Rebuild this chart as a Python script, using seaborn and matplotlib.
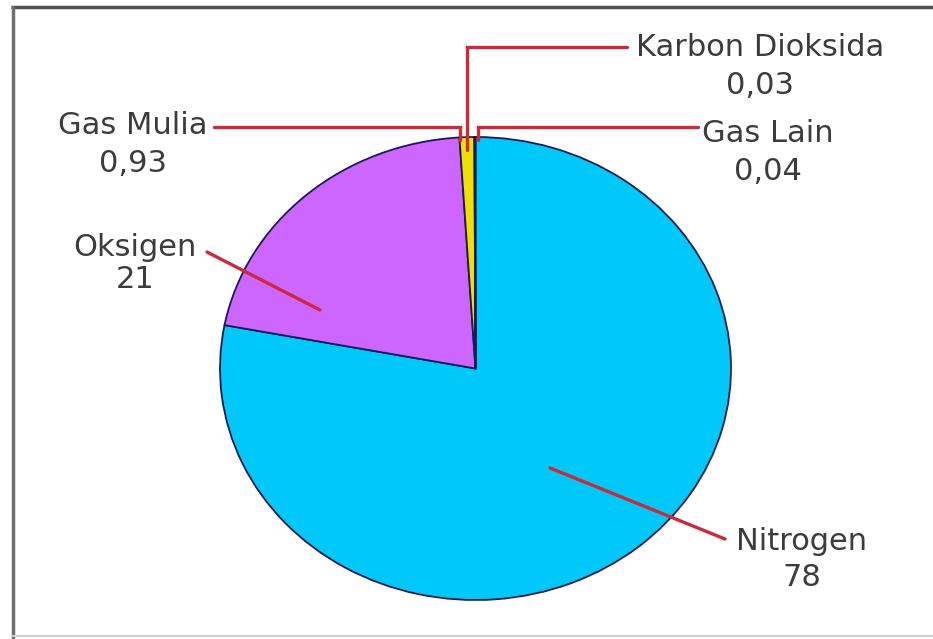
import matplotlib
matplotlib.use("Agg")
import matplotlib.pyplot as plt
import seaborn as sns

# ---- data ----
names = ["Nitrogen", "Oksigen", "Gas Mulia", "Karbon Dioksida", "Gas Lain"]
values = [78, 21, 0.93, 0.03, 0.04]
colors = ["#00C8F8", "#CC66FF", "#F0E000", "#30A030", "#207040"]

def fmt(v):
    return str(v).replace(".", ",")

sns.set_theme(style="white")
plt.rcParams["font.family"] = ["DejaVu Sans"]

W, H = 933, 639
fig = plt.figure(figsize=(W / 100, H / 100), dpi=100)
fig.patch.set_facecolor("white")

# pie axes (slightly elliptical, as in the reference)
pl, pt, pr, pb = 220, 137, 731, 600
ax = fig.add_axes([pl / W, 1 - pb / H, (pr - pl) / W, (pb - pt) / H])
ax.pie(values, colors=colors, startangle=90, counterclock=False, radius=1,
       wedgeprops=dict(edgecolor="#1a1a55", linewidth=1.3))
ax.set_aspect("auto")
ax.set_xlim(-1, 1)
ax.set_ylim(-1, 1)
ax.axis("off")

# overlay axes in pixel coordinates for labels, leader lines, frame
ov = fig.add_axes([0, 0, 1, 1], facecolor="none")
ov.set_xlim(0, W)
ov.set_ylim(H, 0)
ov.axis("off")

# frame
ov.plot([11, W], [7, 7], color="#505050", lw=2.5, solid_capstyle="butt")
ov.plot([13, 13], [6, H], color="#707070", lw=2.5, solid_capstyle="butt")
ov.plot([13, W], [636, 636], color="#d0d0d0", lw=1.5)

line_col = "#CC2a3a"
leaders = {
    "Nitrogen": ([550, 725], [468, 539]),
    "Oksigen": ([320, 207], [310, 252]),
    "Gas Mulia": ([460, 460, 214], [140, 127, 127]),
    "Karbon Dioksida": ([467, 467, 627], [150, 47, 47]),
    "Gas Lain": ([478, 478, 698], [140, 127, 127]),
}
label_pos = {
    "Nitrogen": (802, 542, 577),
    "Oksigen": (135, 247, 280),
    "Gas Mulia": (133, 125, 163),
    "Karbon Dioksida": (760, 48, 85),
    "Gas Lain": (768, 133, 172),
}

for n, v in zip(names, values):
    xs, ys = leaders[n]
    ov.plot(xs, ys, color=line_col, lw=2.4, solid_joinstyle="miter")
    x, y1, y2 = label_pos[n]
    ov.text(x, y1, n, ha="center", va="center", fontsize=22, color="#3c3c3c")
    ov.text(x, y2, fmt(v), ha="center", va="center", fontsize=22, color="#3c3c3c")

fig.savefig("out.png", dpi=100)
